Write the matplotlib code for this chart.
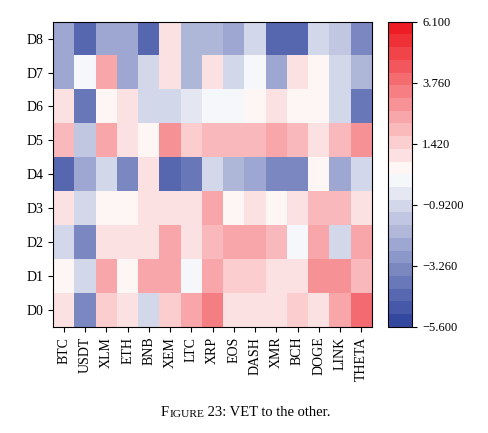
import matplotlib
matplotlib.use('Agg')
import matplotlib.pyplot as plt
import numpy as np
from matplotlib.colors import LinearSegmentedColormap

plt.rcParams['font.family'] = 'Liberation Serif'

coins = ['BTC', 'USDT', 'XLM', 'ETH', 'BNB', 'XEM', 'LTC', 'XRP', 'EOS', 'DASH',
         'XMR', 'BCH', 'DOGE', 'LINK', 'THETA']
rows = ['D8', 'D7', 'D6', 'D5', 'D4', 'D3', 'D2', 'D1', 'D0']

d8 = [-2.5, -4.2, -2.5, -2.5, -4.2, 0.8, -2.0, -2.0, -2.5, -0.8, -4.6, -4.2, -1.2, -1.5, -3.3]
d7 = [-2.5, 0.0, 2.5, -2.5, -0.8, 0.8, -1.8, 0.8, -0.8, -0.2, -2.5, 1.2, 0.3, -0.8, -2.0]
d6 = [0.8, -3.8, 0.3, 0.8, -0.9, -0.9, -0.3, 0.2, -0.2, 0.3, 1.2, 0.3, 0.3, -0.8, -3.8]
d5 = [1.8, -1.6, 2.2, 1.2, 0.3, 2.8, 1.4, 1.8, 1.8, 1.8, 2.2, 1.8, 1.2, 1.8, 2.8]
d4 = [-4.5, -2.5, -0.8, -3.4, 0.8, -4.2, -3.8, -1.2, -2.0, -2.5, -3.5, -3.5, 0.4, -2.5, -0.8]
d3 = [0.8, -1.2, 0.3, 0.3, 0.8, 1.2, 0.8, 2.2, 0.3, 1.2, 0.3, 1.2, 1.8, 1.8, 1.2]
d2 = [-0.8, -3.4, 1.2, 0.8, 0.8, 2.2, 0.8, 1.8, 2.4, 2.4, 1.8, -0.2, 2.4, -0.8, 2.2]
d1 = [0.3, -0.8, 2.2, 0.3, 2.2, 2.2, 0.2, 2.2, 1.6, 1.6, 1.2, 1.2, 2.8, 2.8, 1.8]
d0 = [0.8, -3.4, 1.6, 0.8, -0.8, 1.6, 2.2, 3.2, 0.8, 0.8, 1.2, 1.6, 1.2, 2.2, 3.8]

vmin, vmax = -5.6, 6.1
cbar_ticks = [6.1, 3.76, 1.42, -0.92, -3.26, -5.6]
cbar_labels = ['6.100', '3.760', '1.420', '\u22120.9200', '\u22123.260', '\u22125.600']

data = np.array([d8, d7, d6, d5, d4, d3, d2, d1, d0])

# blue-white-red, centered at midpoint of range
cmap = LinearSegmentedColormap.from_list('bwr2', ['#34489f', '#ffffff', '#ee1c24'], N=24)

fig = plt.figure(figsize=(4.88, 4.33), dpi=100)
ax = fig.add_axes([0.109, 0.245, 0.653, 0.705])
im = ax.imshow(data, cmap=cmap, vmin=vmin, vmax=vmax, aspect='auto')
ax.set_xticks(range(len(coins)))
ax.set_xticklabels(coins, rotation=90, fontsize=10)
ax.set_yticks(range(len(rows)))
ax.set_yticklabels(rows, fontsize=10)

cax = fig.add_axes([0.795, 0.245, 0.05, 0.705])
cb = fig.colorbar(im, cax=cax, ticks=cbar_ticks)
cb.ax.set_yticklabels(cbar_labels, fontsize=9)

# caption in small caps, built from pieces
t1 = fig.text(0.33, 0.04, 'F', ha='left', fontsize=10.5)
t2 = fig.text(0, 0, 'IGURE', fontsize=8.2, transform=None)
t2.remove()
a1 = fig.add_artist(matplotlib.text.Annotation('IGURE', xy=(1, 0), xycoords=t1,
                                                xytext=(0.3, 0), textcoords='offset points',
                                                fontsize=8.2, va='bottom'))
a2 = fig.add_artist(matplotlib.text.Annotation(' 23: VET to the other.', xy=(1, 0), xycoords=a1,
                                                fontsize=10.5, va='bottom'))

fig.savefig('out.png', dpi=100)
